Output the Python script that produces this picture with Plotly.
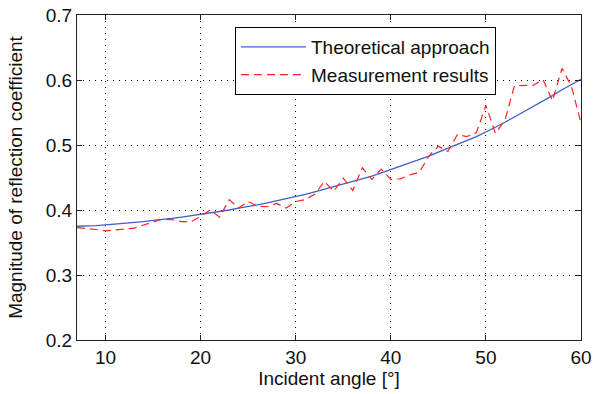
import plotly.graph_objects as go

angles = list(range(7, 61))

theoretical = [
    0.375, 0.375, 0.376, 0.377, 0.378, 0.379, 0.380, 0.382, 0.384, 0.385,
    0.387, 0.389, 0.391, 0.393, 0.396, 0.398, 0.400, 0.403, 0.405, 0.408,
    0.411, 0.414, 0.417, 0.421, 0.424, 0.428, 0.432, 0.436, 0.439, 0.443,
    0.448, 0.452, 0.457, 0.462, 0.468, 0.472, 0.477, 0.483, 0.489, 0.495,
    0.500, 0.506, 0.513, 0.520, 0.527, 0.535, 0.543, 0.551, 0.559, 0.567,
    0.576, 0.585, 0.593, 0.601,
]

measured = [
    0.373, 0.372, 0.370, 0.368, 0.369, 0.370, 0.372, 0.377, 0.382, 0.386,
    0.385, 0.382, 0.382, 0.390, 0.400, 0.389, 0.416, 0.403, 0.413, 0.406,
    0.405, 0.410, 0.403, 0.413, 0.416, 0.424, 0.444, 0.429, 0.449, 0.430,
    0.465, 0.447, 0.463, 0.447, 0.448, 0.454, 0.458, 0.483, 0.498, 0.490,
    0.516, 0.513, 0.519, 0.561, 0.518, 0.538, 0.591, 0.592, 0.592, 0.601,
    0.568, 0.618, 0.590, 0.534,
]

x_ticks = [10, 20, 30, 40, 50, 60]
y_ticks = [0.2, 0.3, 0.4, 0.5, 0.6, 0.7]

FONT = "Liberation Sans, Arial, sans-serif"
FS = 19

fig = go.Figure()
fig.add_trace(go.Scatter(
    x=angles, y=theoretical, mode="lines", name="Theoretical approach",
    line=dict(color="#3F5FC6", width=1.3),
))
fig.add_trace(go.Scatter(
    x=angles, y=measured, mode="lines", name="Measurement results",
    line=dict(color="#FF2222", width=1.2, dash="8px,5px"),
))

axis_common = dict(
    showline=True, linecolor="#222222", linewidth=1, mirror="ticks",
    ticks="inside", ticklen=5, tickcolor="#222222", tickwidth=1,
    showgrid=True, gridcolor="#000000", gridwidth=1, griddash="1px,5px",
    zeroline=False, automargin=False,
    tickfont=dict(family=FONT, size=FS, color="#111111"),
)

fig.update_layout(
    width=597, height=394,
    margin=dict(l=77, r=16, t=15, b=54),
    paper_bgcolor="white", plot_bgcolor="white",
    font=dict(family=FONT, color="#111111"),
    showlegend=True,
    legend=dict(
        x=0.3135, y=0.963, xanchor="left", yanchor="top",
        bgcolor="white", bordercolor="#000000", borderwidth=1,
        itemwidth=65,
        font=dict(family=FONT, size=FS, color="#111111"),
    ),
    xaxis=dict(
        range=[7, 60], tickvals=x_ticks, ticktext=[str(v) for v in x_ticks],
        title=dict(text="Incident angle [°]", font=dict(family=FONT, size=FS), standoff=2),
        **axis_common,
    ),
    yaxis=dict(
        range=[0.2, 0.7], tickvals=y_ticks, ticktext=[f"{v:.1f}" for v in y_ticks],
        title=dict(text="Magnitude of reflection coefficient", font=dict(family=FONT, size=FS), standoff=18),
        **axis_common,
    ),
)

fig.write_html(
    "out.html",
    config={"displayModeBar": False},
    post_script="document.body.style.margin='0';document.body.style.overflow='hidden';",
)
